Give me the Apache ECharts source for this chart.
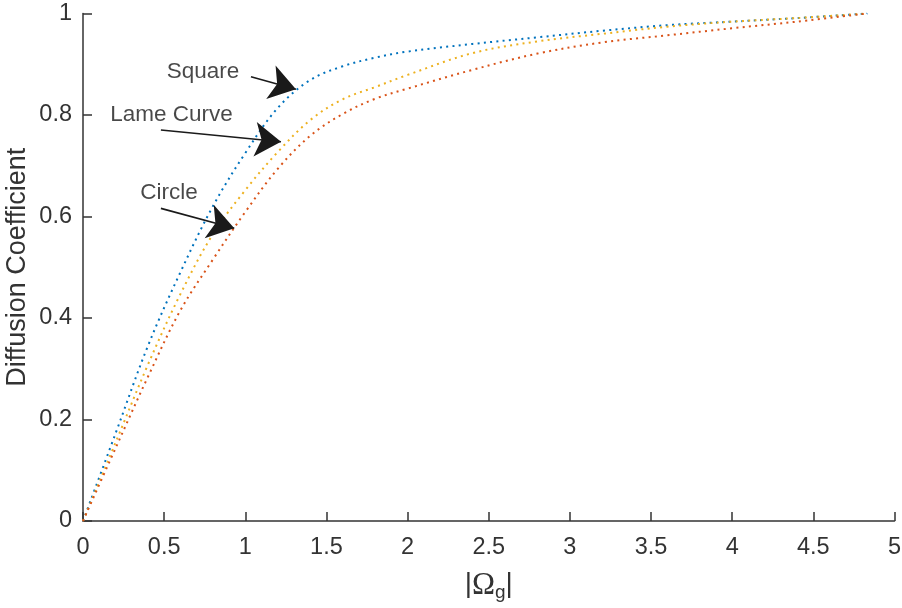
<!DOCTYPE html>
<html>
<head>
<meta charset="utf-8">
<script src="https://cdn.jsdelivr.net/npm/echarts@6/dist/echarts.min.js"></script>
<style>
  html, body { margin: 0; padding: 0; background: #fff; }
  #chart { width: 902px; height: 608px; }
</style>
</head>
<body>
<div id="chart"></div>
<script>
// |Omega_g| sample points
const omega = [0, 0.2, 0.4, 0.6, 0.8, 1.0, 1.2, 1.4, 1.6, 1.8, 2.0, 2.4, 2.8, 3.2, 3.6, 4.0, 4.4, 4.83];
// diffusion coefficient per shape
const squareVals = [0, 0.172, 0.345, 0.49, 0.62, 0.725, 0.814, 0.869, 0.896, 0.913, 0.925, 0.94, 0.953, 0.966, 0.977, 0.984, 0.991, 1.0];
const lameVals = [0, 0.154, 0.308, 0.447, 0.565, 0.652, 0.727, 0.79, 0.831, 0.855, 0.879, 0.922, 0.945, 0.96, 0.974, 0.984, 0.991, 1.0];
const circleVals = [0, 0.143, 0.284, 0.415, 0.515, 0.609, 0.694, 0.759, 0.802, 0.832, 0.852, 0.889, 0.921, 0.943, 0.957, 0.971, 0.984, 1.0];

const xTicks = [0, 0.5, 1, 1.5, 2, 2.5, 3, 3.5, 4, 4.5, 5];
const yTicks = [0, 0.2, 0.4, 0.6, 0.8, 1];

// text annotations [x, y, label] and arrows [from, to]
const notes = [
  [0.74, 0.886, 'Square'],
  [0.545, 0.80, 'Lame Curve'],
  [0.53, 0.646, 'Circle']
];
const arrows = [
  [[1.035, 0.8755], [1.312, 0.8507]],
  [[0.48, 0.7704], [1.22, 0.7474]],
  [[0.48, 0.616], [0.932, 0.5768]]
];

const FONT = 'Liberation Sans';
const INK = '#333333';

const pairs = (vals) => omega.map((x, i) => [x, vals[i]]);

const curve = (name, vals, color) => ({
  name: name,
  type: 'line',
  data: pairs(vals),
  showSymbol: false,
  smooth: 0.35,
  lineStyle: { color: color, width: 2, type: [2, 4.3], cap: 'butt' },
  z: 2
});

const chart = echarts.init(document.getElementById('chart'), null, { renderer: 'canvas' });

chart.setOption({
  animation: false,
  backgroundColor: '#ffffff',
  textStyle: { fontFamily: FONT },
  grid: { left: 83, right: 7.5, top: 13.5, bottom: 87, containLabel: false, outerBoundsMode: 'none' },
  xAxis: {
    type: 'value',
    min: 0,
    max: 5,
    interval: 0.5,
    name: '{bar||}{om|Ω}{sub|g}{bar||}',
    nameLocation: 'middle',
    nameGap: 49,
    nameTextStyle: {
      rich: {
        bar: { fontFamily: FONT, fontSize: 28, color: INK, lineHeight: 32, verticalAlign: 'top' },
        om: { fontFamily: 'Liberation Serif', fontSize: 31, color: INK, lineHeight: 32, verticalAlign: 'top' },
        sub: { fontFamily: FONT, fontSize: 19, color: INK, lineHeight: 22, verticalAlign: 'bottom' }
      },
      lineHeight: 44
    },
    axisLine: { show: true, onZero: false, lineStyle: { color: INK, width: 1.5 } },
    axisTick: { show: true, inside: true, length: 9, lineStyle: { color: INK, width: 1.5 } },
    axisLabel: {
      margin: 15,
      fontSize: 23.5,
      color: INK,
      fontFamily: FONT,
      formatter: (v) => (xTicks.includes(v) ? String(v) : '')
    },
    splitLine: { show: false }
  },
  yAxis: {
    type: 'value',
    min: 0,
    max: 1,
    interval: 0.2,
    name: 'Diffusion Coefficient',
    nameLocation: 'middle',
    nameMoveOverlap: false,
    nameGap: 52,
    nameTextStyle: { fontSize: 27, color: INK, fontFamily: FONT },
    axisLine: { show: true, onZero: false, lineStyle: { color: INK, width: 1.5 } },
    axisTick: { show: true, inside: true, length: 9, lineStyle: { color: INK, width: 1.5 } },
    axisLabel: {
      margin: 11,
      fontSize: 23.5,
      color: INK,
      fontFamily: FONT,
      formatter: (v) => {
        const r = Math.round(v * 10) / 10;
        return yTicks.includes(r) ? String(r) : '';
      }
    },
    splitLine: { show: false }
  },
  series: [
    curve('Square', squareVals, '#0072BD'),
    curve('Lame Curve', lameVals, '#EDB120'),
    curve('Circle', circleVals, '#D95319'),
    {
      name: 'arrows',
      type: 'lines',
      coordinateSystem: 'cartesian2d',
      polyline: false,
      symbol: ['none', 'arrow'],
      symbolSize: [14, 26],
      lineStyle: { color: '#1a1a1a', width: 1.6, opacity: 1, curveness: 0 },
      itemStyle: { color: '#1a1a1a' },
      data: arrows.map(a => ({ coords: a })),
      silent: true,
      z: 5
    },
    {
      name: 'notes',
      type: 'scatter',
      symbolSize: 0,
      data: notes.map(n => ({ value: [n[0], n[1]], name: n[2] })),
      label: {
        show: true,
        position: 'inside',
        formatter: (p) => p.name,
        fontFamily: FONT,
        fontSize: 22.5,
        color: '#1a1a1a'
      },
      silent: true,
      z: 5
    }
  ]
});
</script>
</body>
</html>
